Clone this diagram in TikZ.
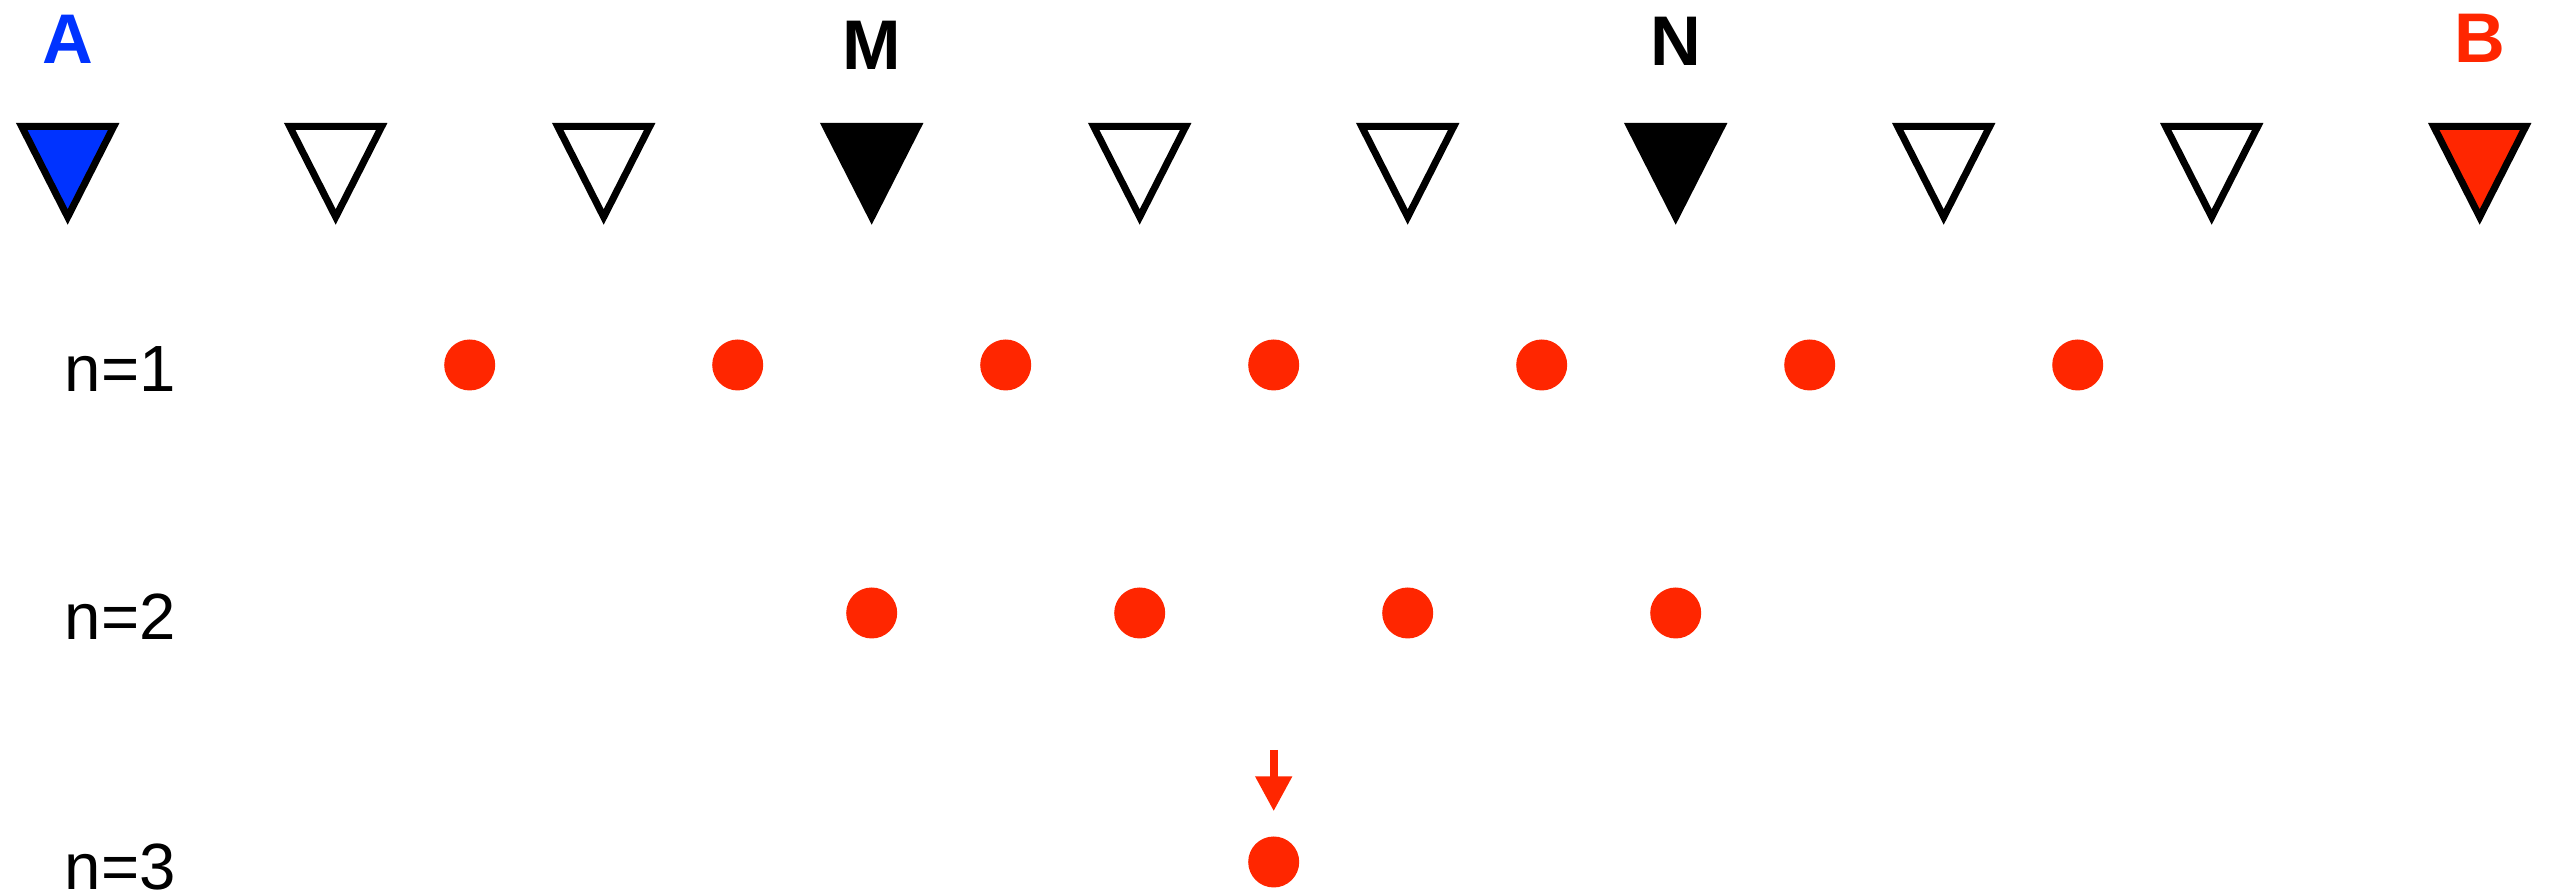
\documentclass[tikz,border=0pt]{standalone}
\usepackage{fontspec}
\setmainfont{Liberation Sans}
\usepackage{tikz}
\usetikzlibrary{calc,arrows.meta}
\definecolor{aBlue}{RGB}{0,51,255}
\definecolor{bRed}{RGB}{255,38,0}
\def\station[#1](#2){\draw[#1] ($(#2)+(-0.46,0)$) -- ($(#2)+(0.46,0)$) -- ($(#2)+(0,-0.905)$) -- cycle;}
\tikzset{
	stationline/.style={line width=2pt, line join=miter},
	dot/.style={circle, fill=bRed, minimum size=0.51cm, inner sep=0pt},
	endlabel/.style={anchor=base, font=\fontsize{20}{24}\selectfont\bfseries},
	rowlabel/.style={anchor=base west, inner sep=0pt, font=\fontsize{18.6}{22}\selectfont},
	shotarrow/.style={line width=0.08cm, color=bRed, -{Triangle[length=0.35cm, width=0.35cm]}}
}

\begin{document}
\begin{tikzpicture}
		%%%%% START %%%%%
		\useasboundingbox (0, 0) rectangle (25.52, 8.96);
		
		\coordinate (st1) at (0.677, 7.695);
		\coordinate (st2) at (3.357, 7.695);
		\coordinate (st3) at (6.037, 7.695);
		\coordinate (st4) at (8.717, 7.695);
		\coordinate (st5) at (11.397, 7.695);
		\coordinate (st6) at (14.077, 7.695);
		\coordinate (st7) at (16.757, 7.695);
		\coordinate (st8) at (19.437, 7.695);
		\coordinate (st9) at (22.117, 7.695);
		\coordinate (st10) at (24.797, 7.695);
		
		\station[stationline, fill=aBlue](st1);
		\station[stationline, fill=white](st2);
		\station[stationline, fill=white](st3);
		\station[stationline, fill=black](st4);
		\station[stationline, fill=white](st5);
		\station[stationline, fill=white](st6);
		\station[stationline, fill=black](st7);
		\station[stationline, fill=white](st8);
		\station[stationline, fill=white](st9);
		\station[stationline, fill=bRed](st10);
		
		\node[endlabel, color=aBlue] (labA) at (0.677, 8.32) {A};
		\node[endlabel] (labM) at (8.717, 8.26) {M};
		\node[endlabel] (labN) at (16.757, 8.30) {N};
		\node[endlabel, color=bRed] (labB) at (24.797, 8.33) {B};
		
		\node[rowlabel] (row1) at (0.64, 5.04) {n=1};
		\node[rowlabel] (row2) at (0.64, 2.56) {n=2};
		\node[rowlabel] (row3) at (0.64, 0.06) {n=3};
		
		\node[dot] (d11) at (4.697, 5.31) {};
		\node[dot] (d12) at (7.377, 5.31) {};
		\node[dot] (d13) at (10.057, 5.31) {};
		\node[dot] (d14) at (12.737, 5.31) {};
		\node[dot] (d15) at (15.417, 5.31) {};
		\node[dot] (d16) at (18.097, 5.31) {};
		\node[dot] (d17) at (20.777, 5.31) {};
		
		\node[dot] (d21) at (8.717, 2.83) {};
		\node[dot] (d22) at (11.397, 2.83) {};
		\node[dot] (d23) at (14.077, 2.83) {};
		\node[dot] (d24) at (16.757, 2.83) {};
		
		\node[dot] (d31) at (12.737, 0.34) {};
		
		\coordinate (shot) at (12.737, 1.46);
		\draw[shotarrow] (shot) -- ($(d31.north)+(0, 0.245)$);
		
		%%%%% END %%%%%
	\end{tikzpicture}
\end{document}
